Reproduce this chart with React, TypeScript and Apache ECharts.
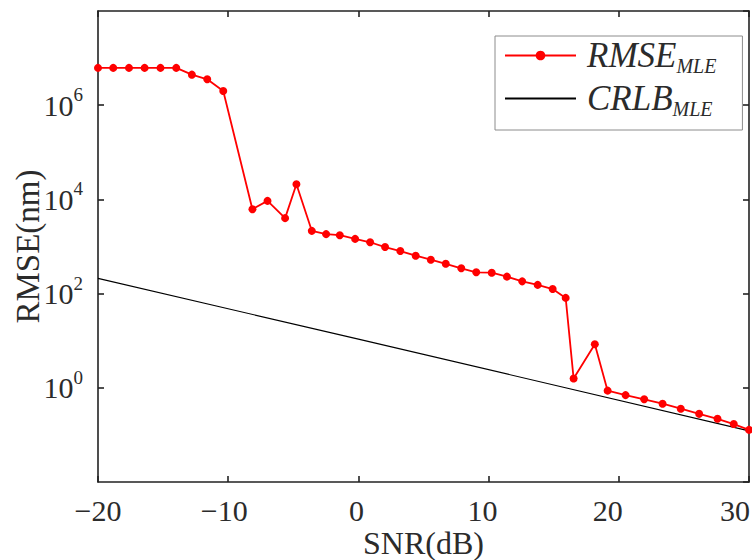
import React, { useEffect, useRef } from "react";
import * as echarts from "echarts";

// SNR (dB) of each RMSE_MLE marker
const SNR_DB = [
  -20.0, -18.83, -17.62, -16.42, -15.2, -13.99, -12.79, -11.61, -10.38,
  -8.14, -6.98, -5.63, -4.76, -3.58, -2.48, -1.43, -0.25, 0.9, 2.05, 3.22,
  4.4, 5.56, 6.71, 7.9, 9.05, 10.24, 11.41, 12.58, 13.77, 14.92, 15.92,
  16.53, 18.16, 19.14, 20.52, 21.95, 23.36, 24.76, 26.17, 27.58, 28.83, 30.0,
];
// RMSE of the MLE (nm)
const RMSE_MLE = [
  6.2e6, 6.2e6, 6.2e6, 6.2e6, 6.2e6, 6.2e6, 4.45e6, 3.55e6, 2.0e6,
  6.2e3, 9.3e3, 4.0e3, 2.1e4, 2150, 1830, 1740, 1450, 1230, 975, 800,
  638, 525, 430, 345, 283, 278, 229, 182, 153, 125, 81,
  1.57, 8.4, 0.87, 0.7, 0.57, 0.46, 0.36, 0.28, 0.22, 0.17, 0.128,
];
// CRLB of the MLE (nm) — straight line on the log axis
const CRLB_SNR_DB = [-20, 0, 30];
const CRLB_MLE = [210, 10.8, 0.122];

const SERIES_NAMES = ["RMSE", "CRLB"];
const SUBSCRIPT = "MLE";
const X_NAME = "SNR(dB)";
const Y_NAME = "RMSE(nm)";
const X_MIN = -20;
const X_MAX = 30;
const X_INTERVAL = 10;
const Y_MIN = 1e-2;
const Y_MAX = 1e8;

const FONT = "'Liberation Serif', 'Times New Roman', serif";
const TEXT = "#2b2b2b";
const AXIS = "#222222";

// small leftward shifts of the x tick labels, as in the reference
const X_LABEL_SHIFT: Record<string, number> = {
  "-20": 0,
  "-10": 4,
  "0": 2,
  "10": 6,
  "20": 11,
  "30": 14,
};

export default function App() {
  const ref = useRef<HTMLDivElement>(null);

  useEffect(() => {
    if (!ref.current) return;
    const chart = echarts.init(ref.current, null, { renderer: "svg" });

    const xKeys = Object.keys(X_LABEL_SHIFT);
    const xRich: Record<string, any> = {};
    xKeys.forEach((k, i) => {
      xRich["x" + i] = {
        fontFamily: FONT,
        fontSize: 30,
        color: TEXT,
        padding: [0, X_LABEL_SHIFT[k] * 2, 0, 0],
      };
    });

    const axisLineStyle = { color: AXIS, width: 1.6 };

    const option: any = {
      animation: false,
      backgroundColor: "#ffffff",
      grid: {
        left: 98,
        right: 3,
        top: 11,
        bottom: 78,
        containLabel: false,
        outerBoundsMode: "none",
      },
      legend: {
        orient: "vertical",
        left: 495,
        top: 36,
        backgroundColor: "#ffffff",
        borderColor: "#8c8c8c",
        borderWidth: 1,
        borderRadius: 0,
        padding: [2, 26, 11, 9],
        itemWidth: 71,
        itemHeight: 12,
        itemGap: 5,
        data: [
          { name: SERIES_NAMES[0] },
          { name: SERIES_NAMES[1], itemStyle: { color: "rgba(0,0,0,0)", opacity: 0, borderWidth: 0 } },
        ],
        formatter: (name: string) => `{n|${name}}{s|${SUBSCRIPT}}`,
        textStyle: {
          fontFamily: FONT,
          color: TEXT,
          rich: {
            n: {
              fontFamily: FONT,
              fontStyle: "italic",
              fontSize: 35,
              lineHeight: 35,
              color: TEXT,
              verticalAlign: "top",
              padding: [0, 0, 0, 6],
            },
            s: {
              fontFamily: FONT,
              fontStyle: "italic",
              fontSize: 20,
              lineHeight: 20,
              color: TEXT,
              verticalAlign: "top",
              padding: [18, 0, 0, 0],
            },
          },
        },
      },
      xAxis: [
        {
          type: "value",
          position: "bottom",
          min: X_MIN,
          max: X_MAX,
          interval: X_INTERVAL,
          name: X_NAME,
          nameLocation: "middle",
          nameGap: 45,
          nameMoveOverlap: false,
          nameTextStyle: { fontFamily: FONT, fontSize: 32, color: TEXT },
          axisLine: { show: true, onZero: false, lineStyle: axisLineStyle },
          axisTick: { show: true, inside: true, length: 6, lineStyle: axisLineStyle },
          splitLine: { show: false },
          axisLabel: {
            margin: 13,
            formatter: (v: number) => {
              const idx = xKeys.indexOf(String(v));
              const label = v < 0 ? "\u2212" + Math.abs(v) : String(v);
              return idx >= 0 ? `{x${idx}|${label}}` : label;
            },
            fontFamily: FONT,
            fontSize: 30,
            color: TEXT,
            rich: xRich,
          },
        },
        {
          type: "value",
          position: "top",
          min: X_MIN,
          max: X_MAX,
          interval: X_INTERVAL,
          axisLine: { show: true, onZero: false, lineStyle: axisLineStyle },
          axisTick: { show: true, inside: true, length: 6, lineStyle: axisLineStyle },
          axisLabel: { show: false },
          splitLine: { show: false },
        },
      ],
      yAxis: [
        {
          type: "log",
          logBase: 100,
          position: "left",
          min: Y_MIN,
          max: Y_MAX,
          name: Y_NAME,
          nameLocation: "middle",
          nameGap: 54,
          nameMoveOverlap: false,
          nameTextStyle: { fontFamily: FONT, fontSize: 33, color: TEXT },
          axisLine: { show: true, onZero: false, lineStyle: axisLineStyle },
          axisTick: { show: true, inside: true, length: 6, lineStyle: axisLineStyle },
          minorTick: { show: false },
          splitLine: { show: false },
          axisLabel: {
            margin: 15,
            showMinLabel: false,
            showMaxLabel: false,
            formatter: (v: number) => `{b|10}{s|${Math.round(Math.log10(v))}}`,
            rich: {
              b: {
                fontFamily: FONT,
                fontSize: 30,
                lineHeight: 30,
                color: TEXT,
                verticalAlign: "bottom",
              },
              s: {
                fontFamily: FONT,
                fontSize: 19,
                lineHeight: 19,
                color: TEXT,
                verticalAlign: "bottom",
                padding: [0, 0, 16, 0],
              },
            },
          },
        },
        {
          type: "log",
          logBase: 100,
          position: "right",
          min: Y_MIN,
          max: Y_MAX,
          axisLine: { show: true, onZero: false, lineStyle: axisLineStyle },
          axisTick: { show: true, inside: true, length: 6, lineStyle: axisLineStyle },
          minorTick: { show: false },
          axisLabel: { show: false },
          splitLine: { show: false },
        },
      ],
      series: [
        {
          name: SERIES_NAMES[0],
          type: "line",
          xAxisIndex: 0,
          yAxisIndex: 0,
          data: SNR_DB.map((x, i) => [x, RMSE_MLE[i]]),
          symbol: "circle",
          symbolSize: 8,
          showAllSymbol: true,
          clip: false,
          lineStyle: { color: "#ff0000", width: 1.8 },
          itemStyle: { color: "#ff0000" },
          z: 3,
        },
        {
          name: SERIES_NAMES[1],
          type: "line",
          xAxisIndex: 0,
          yAxisIndex: 0,
          data: CRLB_SNR_DB.map((x, i) => [x, CRLB_MLE[i]]),
          symbol: "none",
          lineStyle: { color: "#000000", width: 1.2 },
          itemStyle: { color: "#000000" },
          z: 2,
        },
      ],
    };

    chart.setOption(option);
    return () => chart.dispose();
  }, []);

  return (
    <div
      ref={ref}
      style={{ position: "fixed", left: 0, top: 0, width: 752, height: 560, background: "#fff" }}
    />
  );
}
